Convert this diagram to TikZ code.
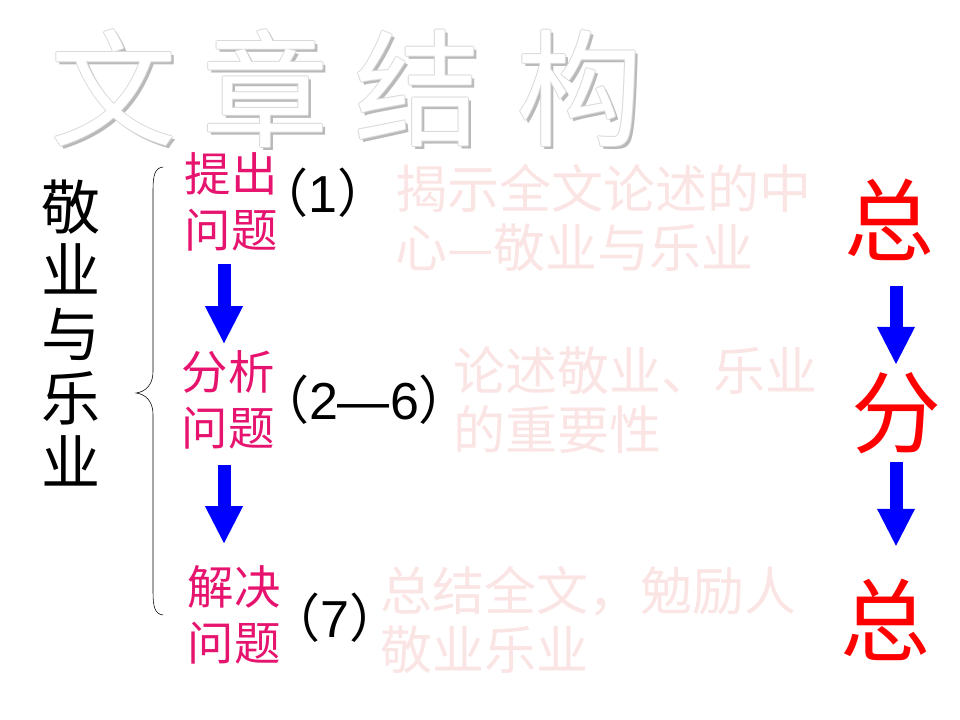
\documentclass[tikz,border=0pt]{standalone}
\usepackage{fontspec}
\setmainfont{Liberation Sans}
\newfontfamily\cjk{Noto Sans CJK SC}
\usetikzlibrary{arrows.meta}
\definecolor{rose}{RGB}{230,20,110}
\definecolor{blush}{RGB}{251,228,228}

\begin{document}
\begin{tikzpicture}[x=0.025cm, y=-0.025cm,
  titlefill/.style={text=white, font=\cjk\fontsize{90}{90}\selectfont, inner sep=0pt},
  titleedge/.style={titlefill, text=gray!30},
  titleshade/.style={titlefill, text=gray!55},
  qlabel/.style={text=rose, font=\cjk\fontsize{33}{40}\selectfont, align=center, inner sep=0pt},
  parnum/.style={font=\fontsize{37}{37}\selectfont, inner sep=0pt},
  palenote/.style={text=blush, font=\cjk\fontsize{37}{41.5}\selectfont, align=left, anchor=west, inner sep=0pt},
  bigred/.style={text=red, font=\cjk\fontsize{64}{64}\selectfont, inner sep=0pt},
  downarrow/.style={draw=blue, line width=0.325cm, -{Triangle[width=0.95cm, length=0.925cm, line width=0pt]}}]

\useasboundingbox (0,0) rectangle (960,720);

\foreach \ch/\cx [count=\i] in {文/114,章/266,结/418,构/580} {
  \node[titleshade] (ts\i) at (\cx+3,91) {\ch};
  \foreach \dx/\dy [count=\j] in {-1/0,1/0,0/-1,0/1}
    \node[titleedge] (te\i\j) at (\cx+\dx,88+\dy) {\ch};
  \node[titlefill] (t\i) at (\cx,88) {\ch};
}

\node[font=\cjk\fontsize{42}{45.5}\selectfont, align=center, inner sep=0pt] (topic) at (71,333) {敬\\业\\与\\乐\\业};

\draw[thin] (163,167) .. controls (155,168) and (153,175) .. (153,190) -- (153,372)
  .. controls (153,385) and (145,392) .. (136,393) .. controls (145,394) and (153,401) .. (153,414)
  -- (153,592) .. controls (153,607) and (155,614) .. (163,615);

\node[qlabel] (q1) at (231,202) {提出\\问题};
\node[qlabel] (q2) at (228,400) {分析\\问题};
\node[qlabel] (q3) at (234,615) {解决\\问题};

\node[parnum] (n1) at (323,193) {{\cjk （}1{\cjk ）}};
\node[parnum] (n2) at (364,400) {{\cjk （}2—6{\cjk ）}};
\node[parnum] (n3) at (335,618) {{\cjk （}7{\cjk ）}};

\node[palenote] (m1) at (395,218) {揭示全文论述的中\\心—敬业与乐业};
\node[palenote] (m2) at (453,400) {论述敬业、乐业\\的重要性};
\node[palenote] (m3) at (380,620) {总结全文，勉励人\\敬业乐业};

\node[bigred] (z1) at (889,220) {总};
\node[bigred] (f) at (896,413) {分};
\node[bigred] (z2) at (885,620) {总};

\coordinate (lax) at (224,0);
\coordinate (rax) at (896,0);

\draw[downarrow, shorten <=0.3cm, shorten >=0.175cm] (q1.south -| lax) -- (q2.north -| lax);
\draw[downarrow, shorten <=0.375cm, shorten >=0.55cm] (q2.south -| lax) -- (q3.north -| lax);
\draw[downarrow, shorten <=0.625cm, shorten >=0.2cm] (z1.south -| rax) -- (f.north -| rax);
\draw[downarrow, shorten <=0.2cm, shorten >=0.825cm] (f.south -| rax) -- (z2.north -| rax);

\end{tikzpicture}
\end{document}
